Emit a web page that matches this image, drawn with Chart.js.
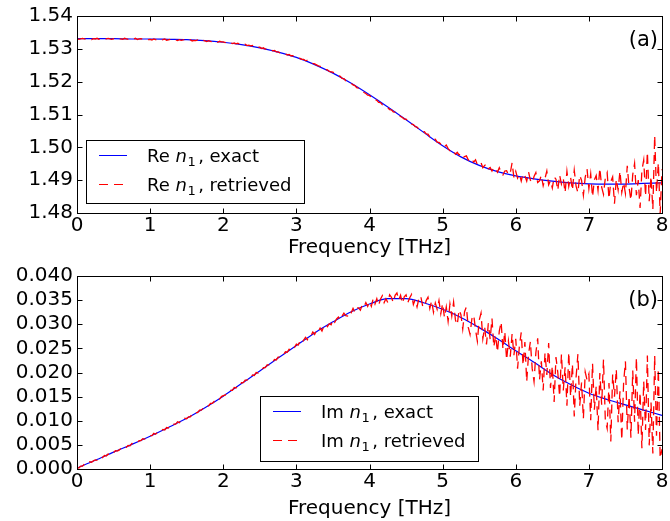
<!DOCTYPE html>
<html><head><meta charset="utf-8">
<script src="https://cdn.jsdelivr.net/npm/chart.js@4.4.0/dist/chart.umd.min.js"></script>
<style>
html,body{margin:0;padding:0;background:#fff;}
canvas{display:block;}
</style></head><body>
<canvas id="c1" width="670" height="260"></canvas>
<canvas id="c2" width="670" height="261"></canvas>
<script>
// ---------- data ----------
const freqTickLabels = ['0','1','2','3','4','5','6','7','8'];
const freqTickValues = [0,1,2,3,4,5,6,7,8];
const reTickValues = [1.48,1.49,1.50,1.51,1.52,1.53,1.54];
const reTickLabels = ['1.48','1.49','1.50','1.51','1.52','1.53','1.54'];
const imTickValues = [0,0.005,0.010,0.015,0.020,0.025,0.030,0.035,0.040];
const imTickLabels = ['0.000','0.005','0.010','0.015','0.020','0.025','0.030','0.035','0.040'];

const freqExact = [0,0.25,0.5,0.75,1,1.25,1.5,1.75,2,2.25,2.5,2.75,3,3.25,3.5,3.75,4,
  4.25,4.5,4.75,5,5.25,5.5,5.75,6,6.25,6.5,6.75,7,7.25,7.5,7.75,8];
const reExact = [1.5331,1.5331,1.5331,1.5330,1.5330,1.5329,1.5328,1.5325,1.5320,1.5313,
  1.5303,1.5290,1.5274,1.5252,1.5226,1.5195,1.5160,1.5123,1.5084,1.5044,1.5005,1.4971,
  1.4945,1.4926,1.4913,1.4904,1.4897,1.4892,1.4889,1.4888,1.4888,1.4890,1.4892];
const imExact = [0.0002,0.0018,0.0035,0.0051,0.0068,0.0086,0.0105,0.0127,0.0151,0.0177,
  0.0203,0.0230,0.0256,0.0282,0.0305,0.0326,0.0342,0.0353,0.0353,0.0344,0.0331,0.0314,
  0.0293,0.0270,0.0245,0.0221,0.0196,0.0175,0.0157,0.0144,0.0133,0.0122,0.0111];

// retrieved samples every 0.025 THz from 0 to 8
const retrievedStep = 0.025;
const reRetrieved = [
1.5331,1.5329,1.5330,1.5332,1.5330,1.5329,1.5331,1.5330,1.5328,1.5331,
1.5330,1.5332,1.5329,1.5330,1.5331,1.5329,1.5330,1.5332,1.5330,1.5329,
1.5331,1.5330,1.5328,1.5331,1.5330,1.5329,1.5332,1.5330,1.5329,1.5331,
1.5329,1.5330,1.5332,1.5328,1.5330,1.5331,1.5329,1.5330,1.5331,1.5328,
1.5329,1.5327,1.5330,1.5328,1.5326,1.5329,1.5327,1.5328,1.5330,1.5326,
1.5327,1.5329,1.5326,1.5328,1.5327,1.5325,1.5328,1.5326,1.5327,1.5329,
1.5325,1.5326,1.5328,1.5324,1.5326,1.5325,1.5327,1.5323,1.5325,1.5326,
1.5324,1.5322,1.5325,1.5323,1.5321,1.5324,1.5322,1.5320,1.5323,1.5321,
1.5321,1.5319,1.5320,1.5317,1.5319,1.5316,1.5318,1.5315,1.5317,1.5313,
1.5315,1.5312,1.5314,1.5310,1.5311,1.5309,1.5310,1.5306,1.5308,1.5305,
1.5305,1.5301,1.5303,1.5299,1.5300,1.5297,1.5298,1.5294,1.5295,1.5291,
1.5291,1.5288,1.5288,1.5285,1.5285,1.5281,1.5283,1.5279,1.5279,1.5276,
1.5275,1.5272,1.5271,1.5268,1.5268,1.5264,1.5265,1.5260,1.5259,1.5256,
1.5254,1.5251,1.5248,1.5247,1.5242,1.5241,1.5237,1.5236,1.5231,1.5230,
1.5229,1.5224,1.5222,1.5218,1.5216,1.5210,1.5209,1.5203,1.5200,1.5197,
1.5195,1.5190,1.5188,1.5182,1.5180,1.5175,1.5172,1.5167,1.5164,1.5159,
1.5158,1.5152,1.5151,1.5145,1.5143,1.5137,1.5136,1.5130,1.5128,1.5123,
1.5121,1.5115,1.5114,1.5108,1.5107,1.5100,1.5099,1.5094,1.5091,1.5086,
1.5086,1.5079,1.5078,1.5071,1.5069,1.5063,1.5062,1.5055,1.5053,1.5048,
1.5048,1.5041,1.5040,1.5032,1.5032,1.5024,1.5025,1.5016,1.5015,1.5010,
1.5012,1.5002,1.5007,1.4996,1.4990,1.4994,1.4989,1.4979,1.4985,1.4977,
1.4980,1.4968,1.4972,1.4974,1.4962,1.4956,1.4963,1.4955,1.4962,1.4947,
1.4946,1.4953,1.4938,1.4945,1.4950,1.4935,1.4939,1.4928,1.4939,1.4935,
1.4924,1.4938,1.4925,1.4916,1.4928,1.4929,1.4916,1.4922,1.4953,1.4908,
1.4927,1.4906,1.4918,1.4897,1.4920,1.4913,1.4897,1.4925,1.4900,1.4892,
1.4911,1.4923,1.4893,1.4898,1.4915,1.4883,1.4905,1.4928,1.4886,1.4899,
1.4876,1.4910,1.4903,1.4869,1.4916,1.4888,1.4905,1.4862,1.4927,1.4881,
1.4909,1.4869,1.4930,1.4882,1.4862,1.4915,1.4899,1.4854,1.4909,1.4934,
1.4874,1.4919,1.4849,1.4901,1.4914,1.4869,1.4937,1.4879,1.4857,1.4907,
1.4923,1.4843,1.4896,1.4910,1.4828,1.4903,1.4870,1.4928,1.4863,1.4893,
1.4859,1.4944,1.4877,1.4839,1.4917,1.4951,1.4854,1.4900,1.4815,1.4929,
1.4961,1.4851,1.4986,1.4836,1.4912,1.4811,1.5036,1.4862,1.4953,1.4798,1.4933];

const imRetrieved = [
0.0003,0.0002,0.0006,0.0006,0.0010,0.0009,0.0011,0.0015,0.0014,0.0017,
0.0019,0.0018,0.0023,0.0022,0.0024,0.0028,0.0027,0.0031,0.0030,0.0035,
0.0034,0.0038,0.0037,0.0039,0.0043,0.0042,0.0046,0.0045,0.0049,0.0048,
0.0053,0.0052,0.0055,0.0055,0.0059,0.0059,0.0063,0.0062,0.0064,0.0068,
0.0069,0.0069,0.0074,0.0072,0.0076,0.0079,0.0078,0.0082,0.0081,0.0086,
0.0085,0.0090,0.0089,0.0093,0.0093,0.0098,0.0096,0.0101,0.0100,0.0105,
0.0104,0.0108,0.0108,0.0114,0.0113,0.0117,0.0117,0.0122,0.0122,0.0126,
0.0126,0.0131,0.0131,0.0136,0.0136,0.0140,0.0140,0.0146,0.0145,0.0150,
0.0152,0.0153,0.0158,0.0158,0.0163,0.0163,0.0169,0.0168,0.0174,0.0173,
0.0179,0.0179,0.0184,0.0184,0.0189,0.0189,0.0195,0.0194,0.0200,0.0199,
0.0205,0.0205,0.0210,0.0210,0.0216,0.0216,0.0221,0.0221,0.0227,0.0226,
0.0232,0.0232,0.0237,0.0237,0.0243,0.0242,0.0248,0.0247,0.0253,0.0252,
0.0259,0.0257,0.0265,0.0261,0.0267,0.0273,0.0268,0.0276,0.0276,0.0284,
0.0279,0.0288,0.0285,0.0292,0.0286,0.0296,0.0300,0.0295,0.0301,0.0299,
0.0310,0.0304,0.0311,0.0315,0.0309,0.0317,0.0323,0.0318,0.0317,0.0327,
0.0324,0.0333,0.0325,0.0334,0.0334,0.0329,0.0340,0.0336,0.0345,0.0337,
0.0347,0.0337,0.0353,0.0342,0.0353,0.0339,0.0352,0.0359,0.0345,0.0353,
0.0345,0.0361,0.0356,0.0345,0.0360,0.0365,0.0350,0.0360,0.0343,0.0357,
0.0361,0.0345,0.0355,0.0362,0.0341,0.0351,0.0336,0.0353,0.0359,0.0339,
0.0335,0.0349,0.0356,0.0333,0.0349,0.0325,0.0344,0.0331,0.0349,0.0322,
0.0343,0.0314,0.0336,0.0306,0.0342,0.0317,0.0346,0.0309,0.0299,0.0330,
0.0320,0.0290,0.0326,0.0336,0.0294,0.0279,0.0311,0.0319,0.0289,0.0265,
0.0308,0.0323,0.0270,0.0294,0.0258,0.0302,0.0269,0.0312,0.0253,0.0277,
0.0242,0.0286,0.0305,0.0248,0.0285,0.0226,0.0265,0.0233,0.0280,0.0236,
0.0270,0.0208,0.0255,0.0283,0.0215,0.0263,0.0181,0.0238,0.0264,0.0208,
0.0181,0.0241,0.0271,0.0185,0.0223,0.0163,0.0241,0.0195,0.0261,0.0168,
0.0214,0.0139,0.0232,0.0200,0.0150,0.0238,0.0163,0.0211,0.0131,0.0242,
0.0150,0.0218,0.0109,0.0190,0.0238,0.0131,0.0179,0.0104,0.0201,0.0184,
0.0197,0.0101,0.0219,0.0123,0.0172,0.0080,0.0199,0.0133,0.0227,0.0100,
0.0084,0.0178,0.0057,0.0196,0.0150,0.0207,0.0097,0.0161,0.0060,0.0179,
0.0223,0.0082,0.0151,0.0065,0.0204,0.0098,0.0231,0.0070,0.0159,0.0043,
0.0182,0.0081,0.0235,0.0049,0.0138,0.0032,0.0235,0.0069,0.0208,0.0022,0.0041];

// ---------- helpers ----------
const FONT = '"DejaVu Sans"';
const BLUE = '#0000ff', RED = '#ff0000';
const DASH = [9, 6];

function pairs(xs, ys) { return ys.map((v, i) => ({x: xs[i], y: v})); }
function gridPairs(ys) { return ys.map((v, i) => ({x: +(i * retrievedStep).toFixed(3), y: v})); }

const framePlugin = {
  id: 'frame',
  afterDatasetsDraw(chart) {
    const {ctx, chartArea: a, scales: {x, y}} = chart;
    ctx.save();
    ctx.strokeStyle = '#000'; ctx.lineWidth = 1;
    const l = Math.round(a.left) + 0.5, t = Math.round(a.top) + 0.5;
    const r = Math.round(a.right) + 0.5, b = Math.round(a.bottom) + 0.5;
    ctx.strokeRect(l, t, r - l, b - t);
    const L = 5;
    ctx.beginPath();
    x.ticks.forEach(tk => {
      const px = Math.round(x.getPixelForValue(tk.value)) + 0.5;
      ctx.moveTo(px, b); ctx.lineTo(px, b - L);
      ctx.moveTo(px, t); ctx.lineTo(px, t + L);
    });
    y.ticks.forEach(tk => {
      const py = Math.round(y.getPixelForValue(tk.value)) + 0.5;
      ctx.moveTo(l, py); ctx.lineTo(l + L, py);
      ctx.moveTo(r, py); ctx.lineTo(r - L, py);
    });
    ctx.stroke();
    ctx.restore();
  }
};

function richLabel(ctx, x, y, prefix, suffix, size) {
  ctx.fillStyle = '#000';
  ctx.textBaseline = 'alphabetic'; ctx.textAlign = 'left';
  ctx.font = size + 'px ' + FONT;
  ctx.fillText(prefix + ' ', x, y); x += ctx.measureText(prefix + ' ').width;
  ctx.font = 'italic ' + size + 'px ' + FONT;
  ctx.fillText('n', x, y); x += ctx.measureText('n').width;
  const ss = Math.round(size * 0.7);
  ctx.font = ss + 'px ' + FONT;
  ctx.fillText('1', x + 0.5, y + size * 0.2); x += ctx.measureText('1').width + 3;
  ctx.font = size + 'px ' + FONT;
  ctx.fillText(suffix, x, y);
}

const legendPlugin = {
  id: 'customLegend',
  afterDraw(chart, args, opts) {
    const ctx = chart.ctx;
    const [bx, by, bw, bh] = opts.box;
    ctx.save();
    ctx.fillStyle = '#fff';
    ctx.fillRect(bx, by, bw, bh);
    ctx.strokeStyle = '#000'; ctx.lineWidth = 1;
    ctx.strokeRect(bx + 0.5, by + 0.5, bw, bh);
    ctx.strokeStyle = BLUE; ctx.lineWidth = 1;
    ctx.beginPath(); ctx.moveTo(bx + 13, by + 15.5); ctx.lineTo(bx + 41, by + 15.5); ctx.stroke();
    ctx.strokeStyle = RED; ctx.setLineDash(DASH);
    ctx.beginPath(); ctx.moveTo(bx + 13, by + 44.5); ctx.lineTo(bx + 41, by + 44.5); ctx.stroke();
    ctx.setLineDash([]);
    richLabel(ctx, bx + 61, by + 22, opts.prefix, ', exact', 18);
    richLabel(ctx, bx + 61, by + 51, opts.prefix, ', retrieved', 18);
    ctx.font = '21px ' + FONT; ctx.fillStyle = '#000';
    ctx.textAlign = 'right'; ctx.textBaseline = 'alphabetic';
    ctx.fillText(opts.letter, chart.chartArea.right - 4, chart.chartArea.top + 30);
    ctx.restore();
  }
};

function makeChart(id, exactY, retrievedY, yMin, yMax, yTickValues, yTickLabels, prefix, letter, box, padTop, xHeight) {
  return new Chart(document.getElementById(id), {
    type: 'line',
    data: {
      datasets: [
        {label: prefix + ' n1, retrieved', data: gridPairs(retrievedY), borderColor: RED, borderWidth: 1.3,
         borderDash: DASH, pointRadius: 0, tension: 0, fill: false},
        {label: prefix + ' n1, exact', data: pairs(freqExact, exactY), borderColor: BLUE, borderWidth: 1.2,
         pointRadius: 0, cubicInterpolationMode: 'monotone', fill: false}
      ]
    },
    options: {
      responsive: false, animation: false, devicePixelRatio: 1,
      layout: {padding: {left: 0, right: 8, top: padTop, bottom: 0}},
      scales: {
        x: {
          type: 'linear', min: 0, max: 8,
          afterBuildTicks: s => { s.ticks = freqTickValues.map(v => ({value: v})); },
          ticks: {callback: (v) => freqTickLabels[freqTickValues.indexOf(v)], color: '#000',
                  font: {family: 'DejaVu Sans', size: 20}, padding: 1, maxRotation: 0, autoSkip: false},
          grid: {display: false, drawTicks: false},
          border: {display: false},
          title: {display: true, text: 'Frequency [THz]', color: '#000',
                  font: {family: 'DejaVu Sans', size: 20}, padding: {top: 0, bottom: 0}},
          afterFit: s => { s.height = xHeight; }
        },
        y: {
          type: 'linear', min: yMin, max: yMax,
          afterBuildTicks: s => { s.ticks = yTickValues.map(v => ({value: v})); },
          ticks: {callback: (v) => yTickLabels[yTickValues.findIndex(t => Math.abs(t - v) < 1e-9)], color: '#000',
                  font: {family: 'DejaVu Sans', size: 20}, padding: 4, autoSkip: false},
          grid: {display: false, drawTicks: false},
          border: {display: false},
          afterFit: s => { s.width = 77; }
        }
      },
      plugins: {
        legend: {display: false}, tooltip: {enabled: false},
        customLegend: {box: box, prefix: prefix, letter: letter}
      }
    },
    plugins: [framePlugin, legendPlugin]
  });
}

makeChart('c1', reExact, reRetrieved, 1.48, 1.54, reTickValues, reTickLabels, 'Re', '(a)', [86, 140, 218, 63], 15, 47);
makeChart('c2', imExact, imRetrieved, 0, 0.040, imTickValues, imTickLabels, 'Im', '(b)', [260, 136, 218, 65], 12, 52);
</script>
</body></html>
